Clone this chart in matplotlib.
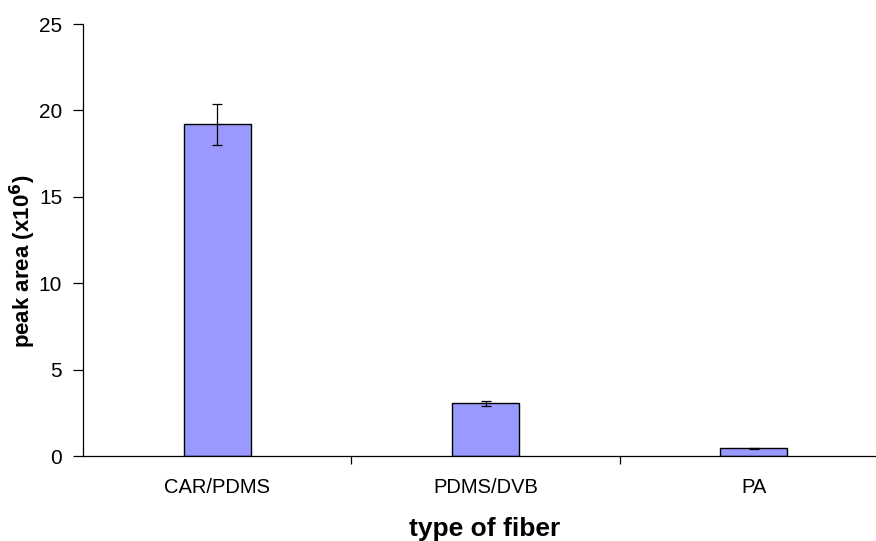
import numpy as np
import matplotlib.pyplot as plt

# fiber types and peak areas (x10^6)
fibers = ['CAR/PDMS', 'PDMS/DVB', 'PA']
peak_area = [19.2, 3.05, 0.46]
peak_err = [1.18, 0.15, 0.03]

plt.rcParams['font.family'] = ['Liberation Sans', 'DejaVu Sans']

fig = plt.figure(figsize=(8.76, 5.41), dpi=100)
ax = fig.add_axes([83 / 876, 85 / 541, 805 / 876, 432 / 541])

x = np.arange(len(fibers))
ax.bar(x, peak_area, width=0.25, color='#9999FF', edgecolor='black', linewidth=1.0,
       yerr=peak_err, capsize=3.5, error_kw=dict(ecolor='black', elinewidth=0.9, capthick=0.9))

ax.set_xlim(-0.5, len(fibers) - 0.5)
ax.set_ylim(0, 25)
ax.set_yticks(np.arange(0, 26, 5))

# category boundaries get the ticks, labels sit in the middle
ax.set_xticks(x[:-1] + 0.5)
ax.set_xticklabels([])
ax.set_xticks(x, minor=True)
ax.set_xticklabels(fibers, minor=True)
ax.tick_params(axis='x', which='minor', length=0, pad=16, labelsize=14.5)
ax.tick_params(axis='x', which='major', length=6, width=0.9, direction='out')
ax.tick_params(axis='y', length=7, width=0.9, direction='out', pad=8, labelsize=15)

for s in ['top', 'right']:
    ax.spines[s].set_visible(False)
for s in ['left', 'bottom']:
    ax.spines[s].set_linewidth(0.9)

fig.text(23 / 876, 1 - 261 / 541, r'peak area (x10$^{\mathbf{6}}$)', rotation=90,
         fontsize=16, fontweight='bold', ha='center', va='center')
fig.text(485 / 876, 1 - 529 / 541, 'type of fiber', fontsize=19, fontweight='bold',
         ha='center', va='center')

plt.savefig('out.png', dpi=100)
